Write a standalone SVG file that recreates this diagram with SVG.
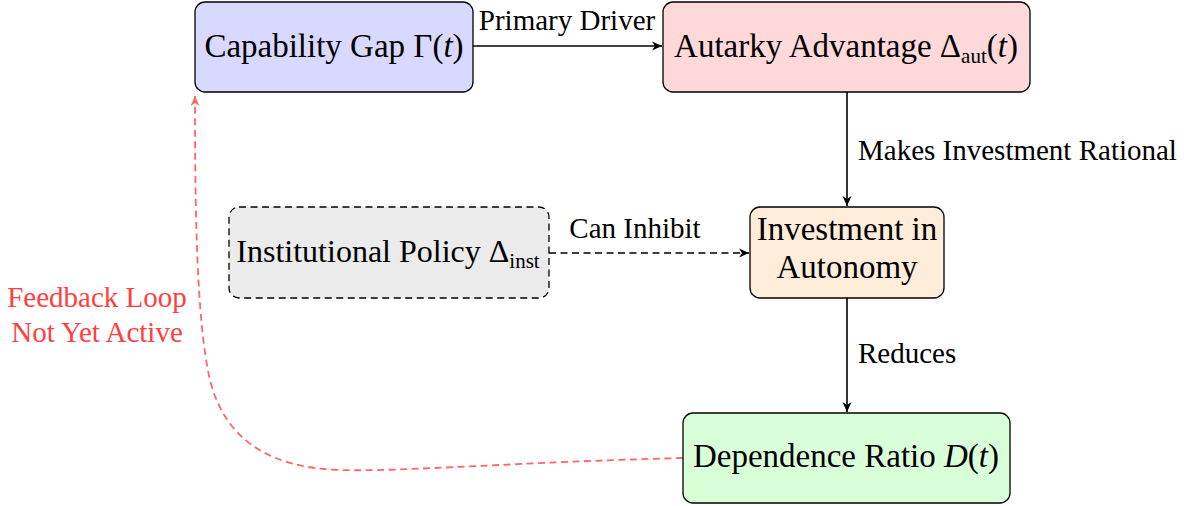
<svg xmlns="http://www.w3.org/2000/svg" width="1187" height="506" viewBox="0 0 1187 506">
<style>
.box{stroke:#000;stroke-width:1.3}
.t{font-family:"Liberation Serif","Times New Roman",serif;font-size:33px;fill:#000;text-anchor:middle}
.lbl{font-family:"Liberation Serif","Times New Roman",serif;font-size:29px;fill:#000}
.it{font-style:italic}
.sub{font-size:21px}
.edge{fill:none;stroke:#000;stroke-width:1.6}
.dash{stroke-dasharray:7,4.5}
.red{fill:none;stroke:#ff6666;stroke-width:1.8;stroke-dasharray:7,4.5}
.redt{font-family:"Liberation Serif","Times New Roman",serif;font-size:29px;fill:#ff3f3f;text-anchor:middle}
</style>
<defs>
<marker id="ah" markerWidth="14" markerHeight="12" viewBox="-12 -6 14 12" refX="0" refY="0" orient="auto" markerUnits="userSpaceOnUse">
<path d="M0,0 L-10,-4.5 L-7,0 L-10,4.5 Z" fill="#000"/>
</marker>
<marker id="ahr" markerWidth="14" markerHeight="12" viewBox="-12 -6 14 12" refX="0" refY="0" orient="auto" markerUnits="userSpaceOnUse">
<path d="M0,0 L-10,-4.5 L-7,0 L-10,4.5 Z" fill="#ff6666"/>
</marker>
</defs>
<g id="connectors">
<path class="edge" d="M473,46 L662,46" marker-end="url(#ah)"/>
<text class="lbl" x="567" y="30" text-anchor="middle">Primary Driver</text>
<path class="edge" d="M847,92 L847,206" marker-end="url(#ah)"/>
<text class="lbl" x="858" y="160">Makes Investment Rational</text>
<path class="edge dash" d="M549,253 L749,253" marker-end="url(#ah)"/>
<text class="lbl" x="635" y="238" text-anchor="middle">Can Inhibit</text>
<path class="edge" d="M847,298 L847,412" marker-end="url(#ah)"/>
<text class="lbl" x="858" y="363">Reduces</text>
<path class="red" d="M683,458 C520,462 400,472 340,470 C270,468 225,440 210,380 C196,320 195,200 195,96" marker-end="url(#ahr)"/>
<text class="redt" x="97" y="307">Feedback Loop</text>
<text class="redt" x="97" y="342">Not Yet Active</text>
</g>
<g id="capability-gap">
<rect class="box" x="195" y="2" width="278" height="90" rx="10" fill="#d9d9ff"/>
<text class="t" x="334" y="57">Capability Gap Γ(<tspan class="it">t</tspan>)</text>
</g>
<g id="autarky-advantage">
<rect class="box" x="663" y="2" width="367" height="90" rx="10" fill="#ffd9d9"/>
<text class="t" x="846" y="57">Autarky Advantage Δ<tspan class="sub" dy="6">aut</tspan><tspan dy="-6">(</tspan><tspan class="it">t</tspan>)</text>
</g>
<g id="institutional-policy">
<rect class="box dash" x="229" y="207" width="320" height="91" rx="10" fill="#ebebeb"/>
<text class="t" x="388" y="262" style="font-size:32px">Institutional Policy Δ<tspan class="sub" dy="6">inst</tspan></text>
</g>
<g id="investment-autonomy">
<rect class="box" x="750" y="207" width="194" height="91" rx="10" fill="#ffecd9"/>
<text class="t" x="847" y="240">Investment in</text>
<text class="t" x="847" y="278">Autonomy</text>
</g>
<g id="dependence-ratio">
<rect class="box" x="683" y="413" width="327" height="90" rx="10" fill="#d9ffd9"/>
<text class="t" x="846" y="467">Dependence Ratio <tspan class="it">D</tspan>(<tspan class="it">t</tspan>)</text>
</g>
</svg>
